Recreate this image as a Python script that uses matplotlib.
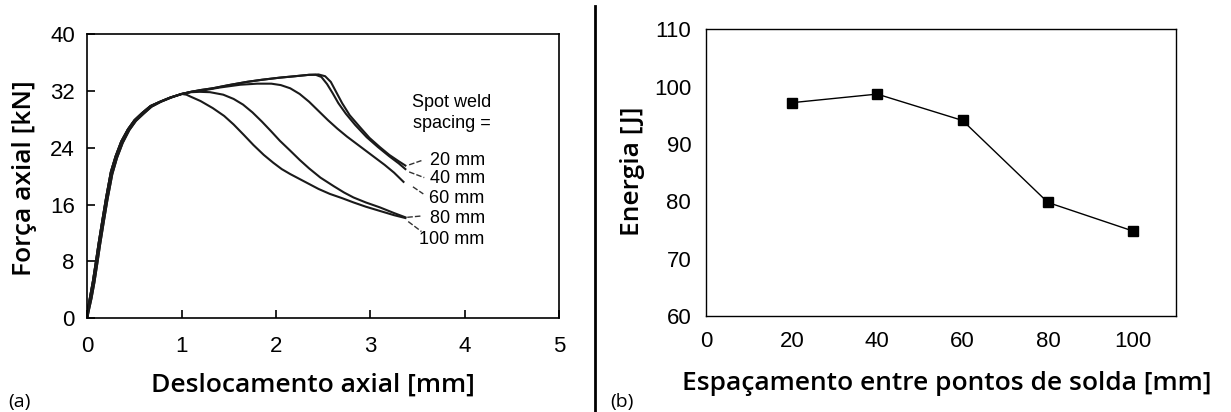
import matplotlib
matplotlib.use("Agg")
import matplotlib.pyplot as plt
from matplotlib.lines import Line2D

# ---- (a) force vs displacement ----
spacing_labels = ['20 mm', '40 mm', '60 mm', '80 mm', '100 mm']

x20 = [0.0, 0.01, 0.03, 0.06, 0.09, 0.12, 0.16, 0.20, 0.25, 0.30, 0.36, 0.43, 0.50, 0.58, 0.67, 0.77, 0.88, 1.0,
       1.1, 1.2, 1.33, 1.5, 1.69, 1.85, 2.04, 2.2, 2.35, 2.45, 2.52, 2.58, 2.64, 2.70, 2.78, 2.89, 2.99, 3.10, 3.20, 3.30, 3.37]
y20 = [0.0, 1.5, 3.0, 5.2, 7.8, 10.5, 13.8, 17.0, 20.6, 22.8, 24.9, 26.6, 27.9, 28.9, 29.9, 30.5, 31.1, 31.6,
       31.9, 32.15, 32.4, 32.85, 33.3, 33.6, 33.9, 34.1, 34.3, 34.35, 34.1, 33.3, 31.8, 30.3, 28.6, 26.9, 25.4, 24.1, 23.0, 22.1, 21.5]
x40 = [0.0, 0.02, 0.045, 0.075, 0.105, 0.135, 0.175, 0.215, 0.265, 0.315, 0.375, 0.445, 0.515, 0.595, 0.68, 0.78, 0.89, 1.0,
       1.1, 1.2, 1.33, 1.5, 1.69, 1.85, 2.04, 2.2, 2.35, 2.42, 2.48, 2.54, 2.60, 2.66, 2.74, 2.84, 2.96, 3.08, 3.20, 3.30, 3.37]
y40 = [0.0, 1.3, 2.8, 5.0, 7.6, 10.3, 13.6, 16.8, 20.3, 22.6, 24.7, 26.5, 27.8, 28.8, 29.8, 30.5, 31.1, 31.6,
       31.9, 32.15, 32.4, 32.85, 33.3, 33.6, 33.9, 34.1, 34.3, 34.3, 34.0, 33.0, 31.7, 30.3, 28.8, 27.2, 25.5, 24.1, 22.8, 21.8, 21.0]
x60 = [0.0, 0.01, 0.03, 0.06, 0.09, 0.12, 0.16, 0.20, 0.25, 0.30, 0.36, 0.43, 0.50, 0.58, 0.67, 0.77, 0.88, 1.0,
       1.1, 1.23, 1.4, 1.62, 1.80, 1.95, 2.05, 2.15, 2.25, 2.35, 2.45, 2.55, 2.65, 2.75, 2.85, 2.95, 3.05, 3.15, 3.25, 3.35]
y60 = [0.0, 1.5, 3.0, 5.2, 7.8, 10.5, 13.8, 17.0, 20.6, 22.8, 24.9, 26.6, 27.9, 28.9, 29.9, 30.5, 31.1, 31.6,
       31.9, 32.1, 32.5, 32.9, 33.05, 33.05, 32.85, 32.4, 31.6, 30.5, 29.2, 27.9, 26.7, 25.6, 24.6, 23.6, 22.6, 21.6, 20.5, 19.2]
x80 = [0.0, 0.02, 0.045, 0.075, 0.105, 0.135, 0.175, 0.215, 0.265, 0.315, 0.375, 0.445, 0.515, 0.595, 0.68, 0.78, 0.89, 1.0,
       1.1, 1.19, 1.3, 1.44, 1.55, 1.65, 1.75, 1.85, 1.95, 2.04, 2.15, 2.25, 2.35, 2.47, 2.61, 2.72, 2.82, 2.95, 3.10, 3.25, 3.37]
y80 = [0.0, 1.3, 2.8, 5.0, 7.6, 10.3, 13.6, 16.8, 20.3, 22.6, 24.7, 26.5, 27.8, 28.8, 29.8, 30.5, 31.1, 31.6,
       31.85, 31.9, 31.85, 31.5, 30.9, 30.1, 29.0, 27.7, 26.3, 25.0, 23.6, 22.3, 21.1, 19.8, 18.6, 17.7, 17.0, 16.3, 15.6, 14.8, 14.2]
x100 = [0.0, 0.01, 0.03, 0.06, 0.09, 0.12, 0.16, 0.20, 0.25, 0.30, 0.36, 0.43, 0.50, 0.58, 0.67, 0.77, 0.88, 1.0,
        1.05, 1.09, 1.2, 1.33, 1.45, 1.55, 1.66, 1.76, 1.87, 1.97, 2.06, 2.15, 2.25, 2.35, 2.45, 2.57, 2.70, 2.82, 2.95, 3.10, 3.25, 3.37]
y100 = [0.0, 1.5, 3.0, 5.2, 7.8, 10.5, 13.8, 17.0, 20.6, 22.8, 24.9, 26.6, 27.9, 28.9, 29.9, 30.5, 31.1, 31.6,
        31.5, 31.25, 30.6, 29.6, 28.5, 27.3, 25.8, 24.4, 23.0, 21.9, 21.0, 20.3, 19.6, 18.9, 18.2, 17.5, 16.9, 16.3, 15.7, 15.1, 14.5, 14.1]

# label text y positions and leader lines (data units)
label_y = [22.2, 19.7, 16.8, 14.0, 11.1]
leader_x = [(3.41, 3.54), (3.41, 3.57), (3.45, 3.56), (3.39, 3.55), (3.40, 3.54)]
leader_y = [(21.6, 22.2), (20.6, 19.8), (18.5, 17.5), (14.2, 14.4), (13.6, 12.2)]

# ---- (b) energy vs spot weld spacing ----
spacing = [20, 40, 60, 80, 100]
energy = [97.2, 98.7, 94.1, 79.8, 74.8]

label_font = ['Open Sans', 'DejaVu Sans']
tick_font = 'Liberation Sans'

fig = plt.figure(figsize=(12.31, 4.12), dpi=100)

# left panel
ax1 = fig.add_axes([0.0709, 0.2282, 0.3834, 0.6883])
curves = [(x20, y20), (x40, y40), (x60, y60), (x80, y80), (x100, y100)]
for xs, ys in curves:
    ax1.plot(xs, ys, color='#1a1a1a', lw=1.5, solid_joinstyle='round')
for lx, ly in zip(leader_x, leader_y):
    ax1.plot(lx, ly, color='#333333', lw=1.0, dashes=(4, 1.5))
for lab, yy in zip(spacing_labels, label_y):
    ax1.text(4.21, yy, lab, ha='right', va='center', fontsize=13, family=tick_font)
ax1.text(3.86, 30.4, 'Spot weld', ha='center', va='center', fontsize=13, family=tick_font)
ax1.text(3.86, 27.5, 'spacing =', ha='center', va='center', fontsize=13, family=tick_font)

ax1.set_xlim(0, 5)
ax1.set_ylim(0, 40)
ax1.set_xticks([0, 1, 2, 3, 4, 5])
ax1.set_yticks([0, 8, 16, 24, 32, 40])
ax1.tick_params(direction='in', length=6, width=1.2, pad=9, labelsize=16)
ax1.tick_params(axis='x', pad=13)
for lab in ax1.get_xticklabels() + ax1.get_yticklabels():
    lab.set_family(tick_font)
for sp in ax1.spines.values():
    sp.set_linewidth(1.2)
ax1.set_xlabel('Deslocamento axial [mm]', fontsize=19, family=label_font, fontweight='semibold')
ax1.xaxis.set_label_coords(0.478, -0.236)
ax1.xaxis.label.set_verticalalignment('center')
ax1.set_ylabel('Força axial [kN]', fontsize=19, family=label_font, fontweight='semibold')
ax1.yaxis.set_label_coords(-0.132, 0.494)
ax1.yaxis.label.set_verticalalignment('center')

# right panel
ax2 = fig.add_axes([0.5739, 0.2330, 0.3814, 0.6959])
ax2.plot(spacing, energy, color='black', lw=1.0, marker='s', markersize=7.5)
ax2.set_xlim(0, 110)
ax2.set_ylim(60, 110)
ax2.set_xticks([0, 20, 40, 60, 80, 100])
ax2.set_yticks([60, 70, 80, 90, 100, 110])
ax2.tick_params(length=0, pad=11, labelsize=16)
for lab in ax2.get_xticklabels() + ax2.get_yticklabels():
    lab.set_family(tick_font)
for sp in ax2.spines.values():
    sp.set_linewidth(1.0)
ax2.set_xlabel('Espaçamento entre pontos de solda [mm]', fontsize=19, family=label_font, fontweight='semibold')
ax2.xaxis.set_label_coords(0.511, -0.234)
ax2.xaxis.label.set_verticalalignment('center')
ax2.set_ylabel('Energia [J]', fontsize=19, family=label_font, fontweight='semibold')
ax2.yaxis.set_label_coords(-0.157, 0.506)
ax2.yaxis.label.set_verticalalignment('center')

# panel tags and separator
fig.text(0.0065, 0.025, '(a)', fontsize=14, family=label_font, va='center')
fig.text(0.4955, 0.025, '(b)', fontsize=14, family=label_font, va='center')
fig.add_artist(Line2D([0.4833, 0.4833], [0.0, 0.985], color='black', lw=2))

fig.savefig('out.png', dpi=100)
